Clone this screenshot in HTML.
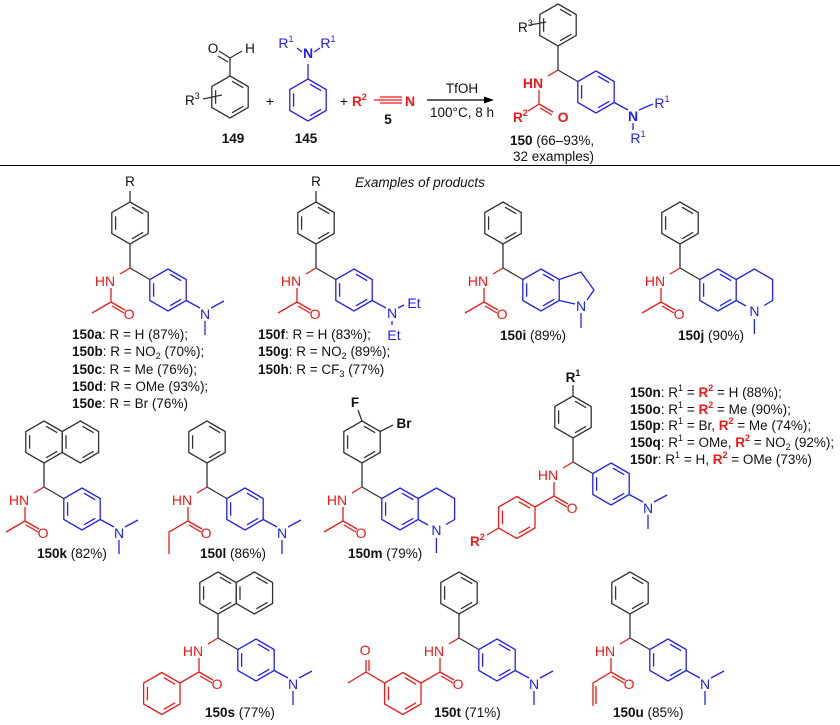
<!DOCTYPE html>
<html><head><meta charset="utf-8"><style>
html,body{margin:0;padding:0;background:#fff}
svg{display:block}
text{font-family:"Liberation Sans",Arial,sans-serif;font-size:13.5px;fill:#111}
.k{stroke:#333;fill:none;stroke-width:1.3}
.r{stroke:#f01818;fill:none;stroke-width:1.3}
.b{stroke:#2020f0;fill:none;stroke-width:1.3}
.rt{fill:#f01818;font-size:14px;text-anchor:middle}
.bt{fill:#2020f0;font-size:14px;text-anchor:middle}
.m{text-anchor:middle}
.bd{font-weight:bold}
.sup{font-size:9px}
</style></head><body>
<svg width="840" height="725" viewBox="0 0 840 725" xmlns="http://www.w3.org/2000/svg">
<defs>
<g id="hx" fill="none"><polygon points="0,-21 18.2,-10.5 18.2,10.5 0,21 -18.2,10.5 -18.2,-10.5"/><path d="M2,-15.8L13.2,-9.3 M13.2,9.3L2,15.8 M-14.4,-6.8V6.8"/></g>
</defs>

<!-- ===== Reaction ===== -->
<!-- 149 -->
<use href="#hx" x="230" y="97" class="k"/>
<path class="k" d="M230,76V58 M230,58L219,51 M228,62L218,56 M230,58L242,51 M203,99L222,95"/>
<text x="213" y="53" class="m" font-size="14">O</text>
<text x="250" y="53" class="m" font-size="14">H</text>
<text x="185" y="105" font-size="14">R<tspan class="sup" dy="-6">3</tspan></text>
<text x="233" y="143" class="m bd">149</text>
<text x="270" y="106" class="m" font-size="15">+</text>
<!-- 145 -->
<use href="#hx" x="308" y="100" class="b"/>
<path class="b" d="M308,79V64 M302,52L297,48 M314,52L320,48"/>
<text x="308" y="58" class="bt bd">N</text>
<text x="286" y="48" class="bt" font-size="14">R<tspan class="sup" dy="-6">1</tspan></text>
<text x="328" y="48" class="bt" font-size="14">R<tspan class="sup" dy="-6">1</tspan></text>
<text x="306" y="143" class="m bd">145</text>
<text x="344" y="106" class="m" font-size="15">+</text>
<!-- 5 -->
<text x="352" y="106" fill="#f01818" font-weight="bold" font-size="14" style="fill:#f01818">R<tspan class="sup" dy="-6">2</tspan></text>
<path class="r" d="M374,100H402 M380,97H402 M380,103H402"/>
<text x="410" y="106" class="rt bd">N</text>
<text x="388" y="124" class="m bd">5</text>
<!-- arrow -->
<path d="M427,100H487" stroke="#000" stroke-width="1.2"/>
<polygon points="494,100 484,96.5 484,103.5" fill="#000"/>
<text x="462" y="93" class="m" font-size="12">TfOH</text>
<text x="462" y="117" class="m" font-size="12">100°C, 8 h</text>
<!-- 150 product -->
<g transform="translate(558,70)">
 <path class="k" d="M0,0V-24 M0,0L19.8,11.5 M-28,-45L-12,-48"/>
 <use href="#hx" x="0" y="-45" class="k"/>
 <text x="-40" y="-38" font-size="14">R<tspan class="sup" dy="-6">3</tspan></text>
 <path class="r" d="M0,0L-10,6 M-19,20V34L-30,41 M-19,34L-5,42 M-18,38L-6,45"/>
 <text class="rt bd" x="-25" y="18">HN</text>
 <text class="rt bd" x="5" y="52">O</text>
 <text x="-45" y="52" font-weight="bold" font-size="14" style="fill:#f01818">R<tspan class="sup" dy="-6">2</tspan></text>
 <use href="#hx" x="38" y="22" class="b"/>
 <path class="b" d="M56.2,32.5L70,40 M81,40L95,34 M75,53V60"/>
 <text class="bt bd" x="75" y="51">N</text>
 <text class="bt" x="104" y="38" font-size="14">R<tspan class="sup" dy="-6">1</tspan></text>
 <text class="bt" x="80" y="73" font-size="14">R<tspan class="sup" dy="-6">1</tspan></text>
</g>
<text x="510" y="145"><tspan class="bd">150</tspan> (66–93%,</text>
<text x="513" y="161">32 examples)</text>

<path d="M0,165.5H840" stroke="#000" stroke-width="1"/>
<text x="420" y="187" class="m" font-style="italic" font-size="12.5">Examples of products</text>

<!-- ===== 150a ===== -->
<g transform="translate(130,268)">
 <path class="k" d="M0,0V-24 M0,0L19.8,11.5 M0,-66V-77"/>
 <use href="#hx" x="0" y="-45" class="k"/>
 <text x="0" y="-82" class="m" font-size="14">R</text>
 <path class="r" d="M0,0L-10,6 M-19,20V34L-38,45 M-19,34L-5,42 M-18,38L-6,45"/>
 <text class="rt" x="-25" y="18">HN</text><text class="rt" x="-1" y="51">O</text>
 <use href="#hx" x="38" y="22" class="b"/>
 <path class="b" d="M56.2,32.5L70,40 M81,40L94,33 M75,53V67"/>
 <text class="bt" x="75" y="51">N</text>
</g>
<text x="72" y="339"><tspan class="bd">150a</tspan>: R = H (87%);</text>
<text x="72" y="356"><tspan class="bd">150b</tspan>: R = NO<tspan font-size="9" dy="3">2</tspan><tspan dy="-3"> (70%);</tspan></text>
<text x="72" y="374"><tspan class="bd">150c</tspan>: R = Me (76%);</text>
<text x="72" y="391"><tspan class="bd">150d</tspan>: R = OMe (93%);</text>
<text x="72" y="408"><tspan class="bd">150e</tspan>: R = Br (76%)</text>

<!-- ===== 150f ===== -->
<g transform="translate(316,268)">
 <path class="k" d="M0,0V-24 M0,0L19.8,11.5 M0,-66V-77"/>
 <use href="#hx" x="0" y="-45" class="k"/>
 <text x="0" y="-82" class="m" font-size="14">R</text>
 <path class="r" d="M0,0L-10,6 M-19,20V34L-38,45 M-19,34L-5,42 M-18,38L-6,45"/>
 <text class="rt" x="-25" y="18">HN</text><text class="rt" x="-1" y="51">O</text>
 <use href="#hx" x="38" y="22" class="b"/>
 <path class="b" d="M56.2,32.5L70,40 M82,40L88,37 M76,53V57"/>
 <text class="bt" x="76" y="50">N</text>
 <text class="bt" x="98" y="40">Et</text>
 <text class="bt" x="78" y="72">Et</text>
</g>
<text x="258" y="339"><tspan class="bd">150f</tspan>:  R = H (83%);</text>
<text x="258" y="356"><tspan class="bd">150g</tspan>: R = NO<tspan font-size="9" dy="3">2</tspan><tspan dy="-3"> (89%);</tspan></text>
<text x="258" y="374"><tspan class="bd">150h</tspan>: R = CF<tspan font-size="9" dy="3">3</tspan><tspan dy="-3"> (77%)</tspan></text>

<!-- ===== 150i ===== -->
<g transform="translate(503,268)">
 <path class="k" d="M0,0V-24 M0,0L19.8,11.5"/>
 <use href="#hx" x="0" y="-45" class="k"/>
 <path class="r" d="M0,0L-10,6 M-19,20V34L-38,45 M-19,34L-5,42 M-18,38L-6,45"/>
 <text class="rt" x="-25" y="18">HN</text><text class="rt" x="-1" y="51">O</text>
 <use href="#hx" x="38" y="22" class="b"/>
 <path class="b" d="M56.2,11.5L78,4L91,22L84,32 M72,36L56.2,32.5 M78,45V60"/>
 <text class="bt" x="78" y="43">N</text>
</g>
<text x="500" y="340"><tspan class="bd">150i</tspan> (89%)</text>

<!-- ===== 150j ===== -->
<g transform="translate(680,268)">
 <path class="k" d="M0,0V-24 M0,0L19.8,11.5"/>
 <use href="#hx" x="0" y="-45" class="k"/>
 <path class="r" d="M0,0L-10,6 M-19,20V34L-38,45 M-19,34L-5,42 M-18,38L-6,45"/>
 <text class="rt" x="-25" y="18">HN</text><text class="rt" x="-1" y="51">O</text>
 <use href="#hx" x="38" y="22" class="b"/>
 <path class="b" d="M56.2,11.5L74.4,1L92.6,11.5V32.5L84,37.5 M66,38L56.2,32.5 M74.4,51V66"/>
 <text class="bt" x="74.4" y="48">N</text>
</g>
<text x="678" y="340"><tspan class="bd">150j</tspan> (90%)</text>

<!-- ===== 150k ===== -->
<g transform="translate(44,487)">
 <path class="k" d="M0,0V-24 M0,0L19.8,11.5"/>
 <use href="#hx" x="0" y="-45" class="k"/>
 <use href="#hx" x="36.4" y="-45" class="k"/>
 <path class="r" d="M0,0L-10,6 M-19,20V34L-38,45 M-19,34L-5,42 M-18,38L-6,45"/>
 <text class="rt" x="-25" y="18">HN</text><text class="rt" x="-1" y="51">O</text>
 <use href="#hx" x="38" y="22" class="b"/>
 <path class="b" d="M56.2,32.5L70,40 M81,40L94,33 M75,53V67"/>
 <text class="bt" x="75" y="51">N</text>
</g>
<text x="37" y="558"><tspan class="bd">150k</tspan> (82%)</text>

<!-- ===== 150l ===== -->
<g transform="translate(207,487)">
 <path class="k" d="M0,0V-24 M0,0L19.8,11.5"/>
 <use href="#hx" x="0" y="-45" class="k"/>
 <path class="r" d="M0,0L-10,6 M-19,20V34L-38,45V67 M-19,34L-5,42 M-18,38L-6,45"/>
 <text class="rt" x="-25" y="18">HN</text><text class="rt" x="-1" y="51">O</text>
 <use href="#hx" x="38" y="22" class="b"/>
 <path class="b" d="M56.2,32.5L70,40 M81,40L94,33 M75,53V67"/>
 <text class="bt" x="75" y="51">N</text>
</g>
<text x="200" y="558"><tspan class="bd">150l</tspan> (86%)</text>

<!-- ===== 150m ===== -->
<g transform="translate(362,487)">
 <path class="k" d="M0,0V-24 M0,0L19.8,11.5 M0,-66L-4,-77 M18.2,-55.5L31,-62"/>
 <use href="#hx" x="0" y="-45" class="k"/>
 <text x="-7" y="-80" class="m bd" font-size="14">F</text>
 <text x="42" y="-59" class="m bd" font-size="14">Br</text>
 <path class="r" d="M0,0L-10,6 M-19,20V34L-38,45 M-19,34L-5,42 M-18,38L-6,45"/>
 <text class="rt" x="-25" y="18">HN</text><text class="rt" x="-1" y="51">O</text>
 <use href="#hx" x="38" y="22" class="b"/>
 <path class="b" d="M56.2,11.5L74.4,1L92.6,11.5V32.5L84,37.5 M66,38L56.2,32.5 M74.4,51V66"/>
 <text class="bt" x="74.4" y="48">N</text>
</g>
<text x="348" y="558"><tspan class="bd">150m</tspan> (79%)</text>

<!-- ===== 150n-r ===== -->
<g transform="translate(573,462)">
 <path class="k" d="M0,0V-24 M0,0L19.8,11.5 M0,-66V-77"/>
 <use href="#hx" x="0" y="-45" class="k"/>
 <text x="0" y="-80" class="m bd" font-size="14">R<tspan class="sup" dy="-6">1</tspan></text>
 <path class="r" d="M0,0L-10,6 M-19,20V34L-38,45 M-19,34L-5,42 M-18,38L-6,45 M-74.4,66L-86,73"/>
 <use href="#hx" x="-56.2" y="55.5" class="r"/>
 <text class="rt" x="-25" y="18">HN</text><text class="rt" x="-1" y="51">O</text>
 <text x="-103" y="84" font-weight="bold" font-size="14" style="fill:#f01818">R<tspan class="sup" dy="-6">2</tspan></text>
 <use href="#hx" x="38" y="22" class="b"/>
 <path class="b" d="M56.2,32.5L70,40 M81,40L94,33 M75,53V67"/>
 <text class="bt" x="75" y="51">N</text>
</g>
<text x="630" y="397"><tspan class="bd">150n</tspan>: R<tspan class="sup" dy="-6">1</tspan><tspan dy="6"> = </tspan><tspan class="bd" style="fill:#f01818">R</tspan><tspan class="sup bd" dy="-6" style="fill:#f01818">2</tspan><tspan dy="6"> = H (88%);</tspan></text>
<text x="630" y="414"><tspan class="bd">150o</tspan>: R<tspan class="sup" dy="-6">1</tspan><tspan dy="6"> = </tspan><tspan class="bd" style="fill:#f01818">R</tspan><tspan class="sup bd" dy="-6" style="fill:#f01818">2</tspan><tspan dy="6"> = Me (90%);</tspan></text>
<text x="630" y="430"><tspan class="bd">150p</tspan>: R<tspan class="sup" dy="-6">1</tspan><tspan dy="6"> = Br, </tspan><tspan class="bd" style="fill:#f01818">R</tspan><tspan class="sup bd" dy="-6" style="fill:#f01818">2</tspan><tspan dy="6"> = Me (74%);</tspan></text>
<text x="630" y="447"><tspan class="bd">150q</tspan>: R<tspan class="sup" dy="-6">1</tspan><tspan dy="6"> = OMe, </tspan><tspan class="bd" style="fill:#f01818">R</tspan><tspan class="sup bd" dy="-6" style="fill:#f01818">2</tspan><tspan dy="6"> = NO</tspan><tspan font-size="9" dy="3">2</tspan><tspan dy="-3"> (92%);</tspan></text>
<text x="630" y="464"><tspan class="bd">150r</tspan>:  R<tspan class="sup" dy="-6">1</tspan><tspan dy="6"> = H, </tspan><tspan class="bd" style="fill:#f01818">R</tspan><tspan class="sup bd" dy="-6" style="fill:#f01818">2</tspan><tspan dy="6"> = OMe (73%)</tspan></text>

<!-- ===== 150s ===== -->
<g transform="translate(218,638)">
 <path class="k" d="M0,0V-24 M0,0L19.8,11.5"/>
 <use href="#hx" x="0" y="-45" class="k"/>
 <use href="#hx" x="36.4" y="-45" class="k"/>
 <path class="r" d="M0,0L-10,6 M-19,20V34L-38,45 M-19,34L-5,42 M-18,38L-6,45"/>
 <use href="#hx" x="-56.2" y="55.5" class="r"/>
 <text class="rt" x="-25" y="18">HN</text><text class="rt" x="-1" y="51">O</text>
 <use href="#hx" x="38" y="22" class="b"/>
 <path class="b" d="M56.2,32.5L70,40 M81,40L94,33 M75,53V67"/>
 <text class="bt" x="75" y="51">N</text>
</g>
<text x="205" y="717"><tspan class="bd">150s</tspan> (77%)</text>

<!-- ===== 150t ===== -->
<g transform="translate(459,638)">
 <path class="k" d="M0,0V-24 M0,0L19.8,11.5"/>
 <use href="#hx" x="0" y="-45" class="k"/>
 <path class="r" d="M0,0L-10,6 M-19,20V34L-38,45 M-19,34L-5,42 M-18,38L-6,45 M-74.4,45L-93,34V22 M-90,33V22 M-93,34L-111,45"/>
 <use href="#hx" x="-56.2" y="55.5" class="r"/>
 <text class="rt" x="-25" y="18">HN</text><text class="rt" x="-1" y="51">O</text>
 <text class="rt" x="-94" y="17">O</text>
 <use href="#hx" x="38" y="22" class="b"/>
 <path class="b" d="M56.2,32.5L70,40 M81,40L94,33 M75,53V67"/>
 <text class="bt" x="75" y="51">N</text>
</g>
<text x="434" y="717"><tspan class="bd">150t</tspan> (71%)</text>

<!-- ===== 150u ===== -->
<g transform="translate(630,638)">
 <path class="k" d="M0,0V-24 M0,0L19.8,11.5"/>
 <use href="#hx" x="0" y="-45" class="k"/>
 <path class="r" d="M0,0L-10,6 M-19,20V34L-37,45V68 M-34,48V66 M-19,34L-5,42 M-18,38L-6,45"/>
 <text class="rt" x="-25" y="18">HN</text><text class="rt" x="-1" y="51">O</text>
 <use href="#hx" x="38" y="22" class="b"/>
 <path class="b" d="M56.2,32.5L70,40 M81,40L94,33 M75,53V67"/>
 <text class="bt" x="75" y="51">N</text>
</g>
<text x="613" y="717"><tspan class="bd">150u</tspan> (85%)</text>
</svg>
</body></html>
